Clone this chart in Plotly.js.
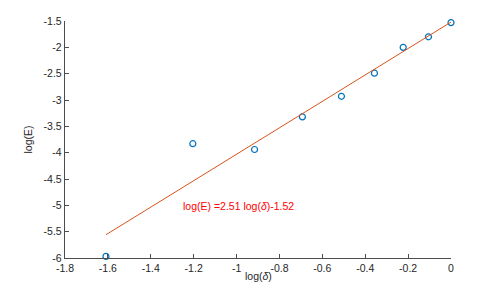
<!DOCTYPE html>
<html>
<head>
<meta charset="utf-8">
<script src="https://cdn.plot.ly/plotly-3.0.1.min.js"></script>
<style>html,body{margin:0;padding:0;background:#fff;}#chart{width:498px;height:291px;}</style>
</head>
<body>
<div id="chart"></div>
<script>
// data
var logDelta = [-1.609, -1.204, -0.916, -0.693, -0.511, -0.357, -0.223, -0.105, 0.0];
var logE = [-5.97, -3.83, -3.94, -3.32, -2.93, -2.49, -2.00, -1.80, -1.53];
var fitSlope = 2.51;
var fitIntercept = -1.52;
var fitX = [-1.609, 0.0];
var xTickVals = [-1.8, -1.6, -1.4, -1.2, -1, -0.8, -0.6, -0.4, -0.2, 0];
var xTickText = ['-1.8', '-1.6', '-1.4', '-1.2', '-1', '-0.8', '-0.6', '-0.4', '-0.2', '0'];
var yTickVals = [-6, -5.5, -5, -4.5, -4, -3.5, -3, -2.5, -2, -1.5];
var yTickText = ['-6', '-5.5', '-5', '-4.5', '-4', '-3.5', '-3', '-2.5', '-2', '-1.5'];
var fitLabel = 'log(E) =2.51 log(<i>δ</i>)-1.52';
var xTitle = 'log(<i>δ</i>)';
var yTitle = 'log(E)';

var fitY = fitX.map(function (x) { return fitSlope * x + fitIntercept; });

var axisColor = '#4d4d4d';
var textColor = '#262626';
var font = {family: 'Liberation Sans, Arial, sans-serif', size: 10.5, color: textColor};

var traces = [
  {
    x: logDelta, y: logE, type: 'scatter', mode: 'markers', cliponaxis: false,
    marker: {symbol: 'circle-open', size: 6, color: '#0072BD', line: {width: 1.2, color: '#0072BD'}},
    hoverinfo: 'skip', showlegend: false
  },
  {
    x: fitX, y: fitY, type: 'scatter', mode: 'lines', cliponaxis: false,
    line: {color: '#D95319', width: 1},
    hoverinfo: 'skip', showlegend: false
  }
];

var layout = {
  width: 498, height: 291,
  margin: {l: 65, r: 47, t: 21, b: 33},
  paper_bgcolor: '#fff', plot_bgcolor: '#fff',
  font: font,
  showlegend: false,
  xaxis: {
    range: [-1.8, 0], tickvals: xTickVals, ticktext: xTickText,
    showgrid: false, zeroline: false, showline: true, linecolor: axisColor, linewidth: 1.2,
    ticks: 'inside', ticklen: 4, tickcolor: axisColor, tickwidth: 1,
    tickfont: font
  },
  yaxis: {
    range: [-6, -1.5], tickvals: yTickVals, ticktext: yTickText,
    showgrid: false, zeroline: false, showline: true, linecolor: axisColor, linewidth: 1.2,
    ticks: 'inside', ticklen: 4, tickcolor: axisColor, tickwidth: 1,
    tickfont: font,
    title: {text: yTitle, font: font, standoff: 9}
  },
  annotations: [
    {
      x: -1.258, y: -5.02, xref: 'x', yref: 'y', text: fitLabel, showarrow: false,
      xanchor: 'left', yanchor: 'middle',
      font: {family: 'Liberation Sans, Arial, sans-serif', size: 10.5, color: '#FF0000'}
    },
    {
      x: 0.5, y: -0.076, xref: 'paper', yref: 'paper', text: xTitle, showarrow: false,
      xanchor: 'center', yanchor: 'middle', font: font
    }
  ]
};

Plotly.newPlot('chart', traces, layout, {staticPlot: true, displayModeBar: false});
</script>
</body>
</html>
